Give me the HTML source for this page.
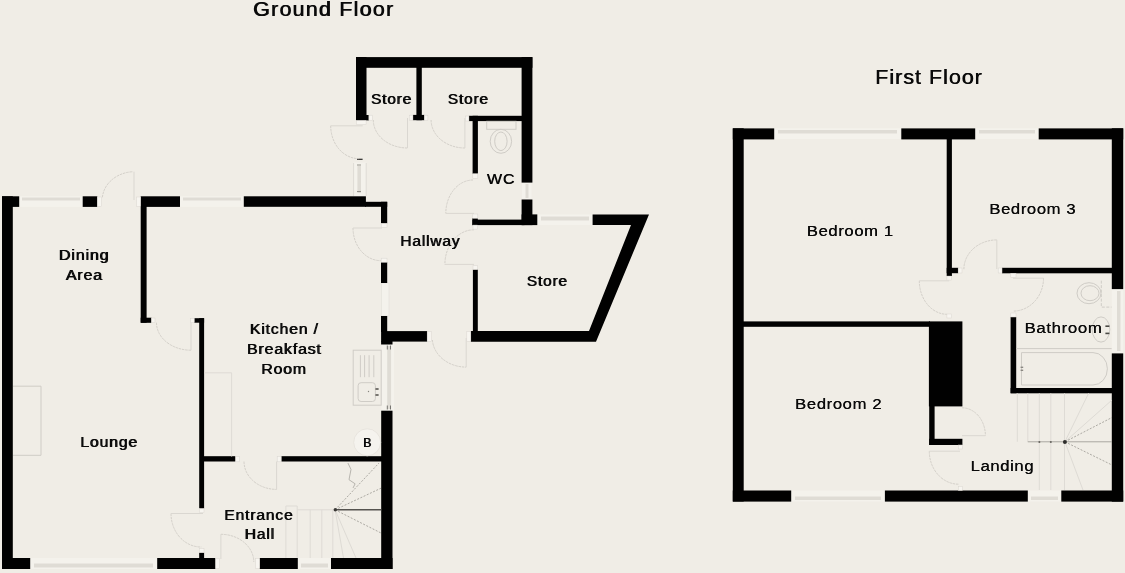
<!DOCTYPE html>
<html>
<head>
<meta charset="utf-8">
<title>Floor Plan</title>
<style>
html,body{margin:0;padding:0;background:#f0ede6;}
body{width:1125px;height:573px;overflow:hidden;font-family:"Liberation Sans",sans-serif;}
svg{display:block;opacity:0.999;}
text{font-family:"Liberation Sans",sans-serif;fill:#0a0a0a;text-anchor:middle;stroke:none;}
.t{font-size:14.5px;letter-spacing:0.8px;}
.t2{font-size:15.5px;letter-spacing:0.6px;}
.b{font-size:12px;letter-spacing:0px;}
.h{font-size:20px;letter-spacing:1.2px;}
.h2{font-size:20.6px;letter-spacing:1.0px;}
.w{fill:#000;}
.win{fill:#f4f2ec;}
.wl{fill:#dfdcd5;}
.f{fill:none;stroke:#cfccc6;stroke-width:1;}
.f2{fill:none;stroke:#dedbd5;stroke-width:1;}
.d{fill:none;stroke:#9a9892;stroke-width:0.8;stroke-dasharray:2 1.5;}
.arc{fill:none;stroke:#cbc8c2;stroke-width:0.8;stroke-dasharray:2.5 0.8;}
.leaf{fill:none;stroke:#dad7d1;stroke-width:1;}
</style>
</head>
<body>
<svg width="1125" height="573" viewBox="0 0 1125 573">
<rect x="0" y="0" width="1125" height="573" fill="#f0ede6"/>

<!-- ================= GROUND FLOOR WINDOWS ================= -->
<g id="gwin">
<!-- dining top window -->
<rect class="win" x="19" y="196.3" width="64" height="10.6"/><rect class="wl" x="22" y="197.5" width="58" height="3"/>
<!-- kitchen top window -->
<rect class="win" x="180" y="196.3" width="64" height="10.6"/><rect class="wl" x="183" y="197.5" width="58" height="3"/>
<!-- lounge bottom window -->
<rect class="win" x="30" y="558" width="127.5" height="11"/><rect class="wl" x="34" y="563.5" width="119" height="4"/>
<!-- entrance bottom window -->
<rect class="win" x="297.5" y="558" width="33.5" height="11"/><rect class="wl" x="301" y="563.5" width="27" height="4"/>
<!-- kitchen right window (sink) -->
<rect class="win" x="381.5" y="344" width="12.5" height="67"/><rect class="wl" x="387.2" y="346" width="3.9" height="63"/>
<path d="M387.3 345.5v4M390.5 345.5v4M387.3 405.5v4M390.5 405.5v4" stroke="#5a5955" stroke-width="0.8" fill="none"/>
<!-- hallway left window lower -->
<rect class="win" x="381.4" y="283" width="7.6" height="33" stroke="#dedbd5" stroke-width="0.5"/>
<!-- hallway external window (upper left) -->
<rect class="win" x="353.5" y="162.5" width="13" height="34"/><rect class="wl" x="357.4" y="166" width="3.6" height="27"/><path d="M357 159.3h5.6" stroke="#2a2927" stroke-width="1.2"/><path d="M357 165h4M357 191.5h4" stroke="#8a8882" stroke-width="0.9"/><path class="f2" d="M353.6 163V196M366.2 163V196" stroke="#dbd8d2"/>
<!-- WC right window -->
<rect class="win" x="522" y="182.5" width="9.5" height="17"/><rect class="wl" x="525.5" y="184" width="3" height="14"/>
<!-- store top window -->
<rect class="win" x="537" y="214.4" width="56" height="10.6"/><rect class="wl" x="541" y="216.5" width="48" height="4"/>
</g>

<!-- ================= GROUND FLOOR WALLS ================= -->
<g id="gwalls" class="w">
<!-- lounge left wall -->
<rect x="2" y="196.3" width="10.8" height="372.7"/>
<!-- top wall segments -->
<rect x="2" y="196.3" width="17.2" height="10.6"/>
<rect x="82.7" y="196.3" width="14.6" height="10.6"/>
<rect x="140.7" y="196.3" width="39.3" height="10.6"/>
<rect x="243.8" y="196.3" width="122.1" height="10.5"/>
<rect x="365" y="201.8" width="22.2" height="5"/>
<!-- kitchen left wall upper -->
<rect x="140.7" y="200" width="5.9" height="122.7"/>
<rect x="140.7" y="317.7" width="10.8" height="5.1"/>
<!-- lounge/kitchen divider lower -->
<rect x="199.2" y="318.2" width="4.9" height="190.4"/>
<rect x="194.2" y="318.2" width="9.9" height="4.5"/>
<rect x="199.2" y="552.6" width="4.9" height="6"/>
<!-- kitchen bottom wall -->
<rect x="203" y="456.2" width="32.6" height="5.3"/>
<rect x="281.2" y="456.2" width="101" height="5.3"/>
<!-- bottom wall -->
<rect x="2" y="558" width="28.2" height="11"/>
<rect x="157.2" y="558" width="58.4" height="11"/>
<rect x="259.6" y="558" width="38.2" height="11"/>
<rect x="331" y="558" width="61.5" height="11"/>
<!-- right wall lower -->
<rect x="381.2" y="410.7" width="11.3" height="158.3"/>
<!-- hallway left wall pieces -->
<rect x="381" y="201.8" width="6.2" height="21.6"/>
<rect x="381" y="262.2" width="6.2" height="20.8"/>
<rect x="381" y="316" width="6.2" height="16"/>
<rect x="381.1" y="331.1" width="46.1" height="10.5"/>
<rect x="381.1" y="341" width="11.4" height="3.5"/>
<!-- top stores -->
<rect x="356" y="57.1" width="176.4" height="10.7"/>
<rect x="356" y="57.1" width="10.5" height="63.3"/>
<rect x="356" y="115" width="12.9" height="5.4"/>
<rect x="416.4" y="60" width="5.4" height="60.2"/>
<rect x="412.9" y="114.9" width="11.5" height="5.3"/>
<rect x="521.6" y="57.1" width="10.8" height="125.5"/>
<rect x="521.6" y="199.5" width="10.8" height="25.6"/>
<!-- WC walls -->
<rect x="468.9" y="115.8" width="54" height="5.3"/>
<rect x="472.6" y="115.8" width="5.3" height="58"/>
<!-- WC / store horizontal wall -->
<rect x="472.4" y="219.6" width="52" height="5.5"/>
<rect x="472.4" y="218.2" width="5.4" height="7"/>
<rect x="521.6" y="214.4" width="15.7" height="10.7"/>
<!-- big store -->
<polygon points="592.6,214.4 649,214.4 596,341.8 470.8,341.8 470.8,331 589,331 631,225 592.6,225"/>
<rect x="472.9" y="269.5" width="4.9" height="66"/>
</g>

<!-- ================= FIRST FLOOR WINDOWS ================= -->
<g id="fwin">
<rect class="win" x="774" y="128.3" width="127.5" height="10.8"/><rect class="wl" x="778" y="130" width="119" height="3.5"/>
<rect class="win" x="975" y="128.3" width="64" height="10.8"/><rect class="wl" x="979" y="130" width="56" height="3.5"/>
<rect class="win" x="791" y="490.5" width="94" height="11"/><rect class="wl" x="795" y="496.5" width="86" height="3.5"/>
<rect class="win" x="1027.8" y="490.5" width="33.7" height="11"/><rect class="wl" x="1031" y="496.5" width="27" height="3.5"/>
<rect class="win" x="1111.8" y="289" width="11.4" height="64.5"/><rect class="wl" x="1117" y="291" width="3.5" height="60"/>
</g>

<!-- ================= FIRST FLOOR WALLS ================= -->
<g id="fwalls" class="w">
<!-- left wall -->
<rect x="732.8" y="128.3" width="10.9" height="373.2"/>
<!-- top wall -->
<rect x="732.8" y="128.4" width="41.4" height="11"/>
<rect x="901.3" y="128.4" width="73.9" height="11"/>
<rect x="1038.7" y="128.4" width="84.5" height="11"/>
<!-- right wall -->
<rect x="1111.8" y="128.3" width="11.4" height="160.8"/>
<rect x="1111.8" y="353.4" width="11.4" height="148.2"/>
<!-- bottom wall -->
<rect x="732.8" y="490.5" width="58.4" height="11.1"/>
<rect x="884.9" y="490.5" width="142.9" height="11.1"/>
<rect x="1061.3" y="490.5" width="61.9" height="11.1"/>
<!-- bed1/bed3 divider -->
<rect x="946.7" y="135" width="5.2" height="141"/>
<rect x="946.7" y="267.8" width="11.5" height="5.4"/>
<!-- bed3 bottom wall -->
<rect x="1002" y="267.8" width="112" height="5.5"/>
<!-- bed2 top wall -->
<rect x="740" y="321.4" width="190" height="5.4"/>
<!-- chimney -->
<rect x="928.9" y="321.4" width="33.5" height="85"/>
<!-- cupboard -->
<rect x="929.2" y="400" width="5.4" height="45"/>
<rect x="929.2" y="438.8" width="33.2" height="6.2"/>
<!-- bathroom -->
<rect x="1010.6" y="317" width="5.6" height="76.2"/>
<rect x="1010.6" y="388" width="103" height="5.3"/>
</g>


<!-- ================= FAINT DETAILS: GROUND FLOOR ================= -->
<g id="gdetail">
<!-- fireplace -->
<path class="f" d="M13 386.2H41V455.3H13" stroke="#d6d3cd"/>
<!-- kitchen counters -->
<path class="f2" d="M204 372.8H231.6V456.5"/>
<!-- sink unit -->
<rect class="f" x="353.2" y="350.2" width="28" height="55"/>
<path class="f" d="M360.4 355.2V377.2M364.6 355.2V377.2M369.1 355.2V377.2M373.8 355.2V377.2"/>
<rect class="f" x="358.1" y="382.7" width="17.3" height="18.8" rx="3"/>
<rect x="375.4" y="388" width="3.2" height="2" fill="#77756f"/><rect x="375.4" y="394" width="3.2" height="2" fill="#77756f"/>
<circle cx="368.5" cy="391.5" r="0.7" fill="#88867f"/>
<!-- boiler -->
<circle cx="367.2" cy="442.3" r="13.5" fill="#f5f3ee" stroke="#e4e1db" stroke-width="0.8"/>
<!-- WC pan -->
<rect class="f" x="486.7" y="121.3" width="29.3" height="8"/>
<ellipse class="f" cx="500.9" cy="141.3" rx="10.7" ry="12"/>
<ellipse class="f" cx="500.9" cy="141.3" rx="6.2" ry="9.3"/>
<!-- ground stairs -->
<path class="f2" d="M285.9 506V558M297.2 506V558M310.2 509.8V558M321.8 509.8V558M332.8 509.8V558M285.9 506H297.2M297.2 509.8H335" stroke="#d6d3cd"/>
<path d="M335.1 509.8H381.2" stroke="#55534f" stroke-width="1.4" fill="none"/>
<path class="d" d="M335.1 509.8L381 488.2M335.1 509.8L379 463M335.1 509.8L381 533"/>
<path class="f2" d="M335.1 509.8L356 558M335.1 509.8L343.5 558"/>
<path d="M347.9 463L351 469.4L349 479.7L355.1 483.8L353 488" stroke="#a8a6a0" stroke-width="0.8" fill="none"/>
<circle cx="335.3" cy="509.8" r="1.7" fill="#3a3936"/>
</g>

<!-- ================= DOORS: GROUND FLOOR ================= -->
<g id="gdoors">
<!-- A dining external -->
<path class="arc" d="M102.4 197.3A32.5 28 0 0 1 133 171.7"/><path class="leaf" d="M134 171.7V200"/>
<!-- B kitchen / lounge -->
<path class="arc" d="M156.5 322.7A34.5 27.5 0 0 0 191 350.2"/><path class="leaf" d="M191 320V350.2"/>
<!-- C lounge / entrance -->
<path class="arc" d="M171 513.5A30 33.5 0 0 0 201.3 547"/><path class="leaf" d="M171 513.5H203"/>
<!-- D front door -->
<path class="arc" d="M220.9 534.3A33 27.7 0 0 1 253.8 562"/><path class="leaf" d="M220.9 534.3V559"/>
<!-- E kitchen / entrance -->
<path class="arc" d="M244 461.5A32.6 28 0 0 0 276.6 489.4"/><path class="leaf" d="M276.6 461.5V489.4"/>
<!-- F kitchen / hallway -->
<path class="arc" d="M353 228A28 32.7 0 0 0 380.8 260.7"/><path class="leaf" d="M353 228H382"/>
<!-- G hallway bottom external -->
<path class="arc" d="M432.4 340A33.8 29 0 0 0 466.2 367.1"/><path class="leaf" d="M466.2 338V367.1"/>
<!-- H hallway / store -->
<path class="arc" d="M474 229.8A29 34.6 0 0 0 444.9 264.4"/><path class="leaf" d="M444.9 264.4H474"/>
<!-- I WC -->
<path class="arc" d="M473 180A27.2 33.4 0 0 0 445.8 213.4"/><path class="leaf" d="M445.8 213.4H474"/>
<!-- J store 1 -->
<path class="arc" d="M373.3 120A34.2 28 0 0 0 407.5 148"/><path class="leaf" d="M407.5 118V148"/>
<!-- K store 2 -->
<path class="arc" d="M431.1 120A33.8 28 0 0 0 464.9 148"/><path class="leaf" d="M464.9 118V148"/>
<!-- L hallway external left -->
<path class="arc" d="M330.7 125.8A28.4 32.9 0 0 0 359.1 158.7"/><path class="leaf" d="M330.7 125.8H362.7"/>
</g>

<!-- ================= FAINT DETAILS: FIRST FLOOR ================= -->
<g id="fdetail">
<!-- bath -->
<path class="f" d="M1016.3 348.6H1111.6"/>
<path class="f" d="M1021.5 352.6H1093A14.4 16.2 0 0 1 1093 385H1021.5Z"/>
<rect x="1020.6" y="366.6" width="2.6" height="1.4" fill="#8a8882"/><rect x="1020.6" y="369.6" width="2.6" height="1.4" fill="#8a8882"/>
<!-- toilet -->
<ellipse class="f" cx="1089" cy="293.2" rx="12" ry="10.5"/>
<ellipse class="f" cx="1090" cy="293.2" rx="9" ry="7.5"/>
<path class="f" d="M1101.3 280.6V307.1H1111.5" stroke-dasharray="3 1.5"/>
<!-- basin -->
<ellipse class="f" cx="1101" cy="329.5" rx="8.8" ry="12.6"/>
<rect x="1105.4" y="325.4" width="4" height="1.6" fill="#4a4945"/><rect x="1105.4" y="332.6" width="4" height="1.6" fill="#4a4945"/>
<!-- stairs -->
<path class="f2" d="M1017.3 393.3V441.8M1027.8 393.3V441.8M1039.3 393.3V441.8M1050.8 393.3V441.8M1064.5 393.3V441.8" stroke="#d8d5cf"/>
<path class="f2" d="M1039.3 441.8V490M1050.8 441.8V490M1064.5 441.8V490" stroke="#e6e3dd"/>
<path class="f2" d="M1064.9 441.8L1088.6 393.3M1064.9 441.8L1083 490M1064.9 441.8L1112 400" stroke="#e8e5df"/>
<path d="M1027.8 441.8H1112" stroke="#a19f99" stroke-width="0.9" fill="none"/>
<path class="d" d="M1064.9 441.8L1112 417.5M1064.9 441.8L1112 465" stroke="#c6c3bd"/>
<circle cx="1039.4" cy="441.9" r="1" fill="#66645f"/><circle cx="1050.8" cy="441.9" r="1" fill="#66645f"/>
<circle cx="1064.9" cy="441.9" r="2" fill="#2e2d2b"/>
</g>

<!-- ================= DOORS: FIRST FLOOR ================= -->
<g id="fdoors">
<!-- M bedroom 3 -->
<path class="arc" d="M963.9 269.2A33 29.3 0 0 1 996.8 239.9"/><path class="leaf" d="M996.8 239.9V269"/>
<!-- N bedroom 1 -->
<path class="arc" d="M919.3 280.8A27.8 33.5 0 0 0 947.1 314.3"/><path class="leaf" d="M919.3 280.8H949.2"/>
<!-- O bathroom -->
<path class="arc" d="M1043.5 278.2A30.4 32.9 0 0 1 1013.1 311.1"/><path class="leaf" d="M1013 278.2H1043.5"/>
<!-- P bedroom 2 -->
<path class="arc" d="M929.3 451.2A29.3 33 0 0 0 958.6 484.2"/><path class="leaf" d="M929.3 451.2H960"/>
<!-- Q cupboard -->
<path class="arc" d="M962 407.8A23.4 27.9 0 0 1 985.4 435.7"/><path class="leaf" d="M962 435.7H985.4"/>
</g>

<g id="jambs" fill="#f7f5f0" stroke="#d9d6d0" stroke-width="0.5">
<rect x="97.4" y="197" width="4" height="9.5"/>
<rect x="136.6" y="197" width="4" height="9.5"/>
<rect x="151.5" y="318" width="3.5" height="4.7"/>
<rect x="190.7" y="318.4" width="3.5" height="4.3"/>
<rect x="199.3" y="508.6" width="4.7" height="4"/>
<rect x="199.3" y="548.6" width="4.7" height="4"/>
<rect x="215.6" y="558.5" width="4" height="10"/>
<rect x="255.6" y="558.5" width="4" height="10"/>
<rect x="235.6" y="456.6" width="4" height="5.2"/>
<rect x="277.2" y="456.6" width="4" height="5.2"/>
<rect x="381.2" y="223.4" width="5.8" height="4"/>
<rect x="381.2" y="258.2" width="5.8" height="4"/>
<rect x="427.2" y="331.5" width="4" height="9.8"/>
<rect x="466.8" y="331.5" width="4" height="9.8"/>
<rect x="473" y="225.1" width="4.7" height="4"/>
<rect x="473" y="265.5" width="4.7" height="4"/>
<rect x="472.8" y="173.8" width="5" height="4.5"/>
<rect x="472.8" y="214" width="5" height="4.2"/>
<rect x="368.9" y="115.2" width="3.5" height="5"/>
<rect x="409.4" y="115.2" width="3.5" height="5"/>
<rect x="424.4" y="115.2" width="3.5" height="5"/>
<rect x="465.4" y="116" width="3.5" height="5"/>
<rect x="356.3" y="120.4" width="9.8" height="4"/>
<rect x="958.2" y="268" width="3.8" height="5"/>
<rect x="998.2" y="268" width="3.8" height="5"/>
<rect x="946.9" y="276.1" width="4.8" height="4"/>
<rect x="946.9" y="314" width="4.8" height="4"/>
<rect x="1010.8" y="273.3" width="5.2" height="4"/>
<rect x="1010.8" y="313" width="5.2" height="4"/>
<rect x="958.4" y="445" width="4" height="4"/>
<rect x="958.4" y="486.4" width="4" height="4"/>
</g>

<!-- ================= TEXT ================= -->
<g id="labels" style="filter:grayscale(1)">
<text class="h" transform="translate(323.44 15.6) scale(1.068 1)">Ground Floor</text>
<text class="h" transform="translate(324.24 15.6) scale(1.068 1)">Ground Floor</text>
<text class="h2" transform="translate(928.82 83.7) scale(1.039 1)">First Floor</text>
<text class="h2" transform="translate(929.42 83.7) scale(1.039 1)">First Floor</text>
<text class="t" transform="translate(391.20 104.0) scale(1.061 1)">Store</text>
<text class="t" transform="translate(392.04 104.0) scale(1.061 1)">Store</text>
<text class="t" transform="translate(468.00 104.0) scale(1.061 1)">Store</text>
<text class="t" transform="translate(468.84 104.0) scale(1.061 1)">Store</text>
<text class="t" transform="translate(500.99 183.9) scale(1.103 1)">WC</text>
<text class="t" transform="translate(501.49 183.9) scale(1.103 1)">WC</text>
<text class="t" transform="translate(430.01 246.4) scale(1.067 1)">Hallway</text>
<text class="t" transform="translate(430.85 246.4) scale(1.067 1)">Hallway</text>
<text class="t" transform="translate(547.00 286.1) scale(1.061 1)">Store</text>
<text class="t" transform="translate(547.84 286.1) scale(1.061 1)">Store</text>
<text class="t" transform="translate(83.82 259.7) scale(1.100 1)">Dining</text>
<text class="t" transform="translate(84.66 259.7) scale(1.100 1)">Dining</text>
<text class="t" transform="translate(84.02 280.0) scale(1.092 1)">Area</text>
<text class="t" transform="translate(84.86 280.0) scale(1.092 1)">Area</text>
<text class="t" transform="translate(284.01 334.2) scale(1.084 1)">Kitchen /</text>
<text class="t" transform="translate(284.85 334.2) scale(1.084 1)">Kitchen /</text>
<text class="t" transform="translate(284.02 354.4) scale(1.093 1)">Breakfast</text>
<text class="t" transform="translate(284.86 354.4) scale(1.093 1)">Breakfast</text>
<text class="t" transform="translate(283.72 373.6) scale(1.091 1)">Room</text>
<text class="t" transform="translate(284.56 373.6) scale(1.091 1)">Room</text>
<text class="t" transform="translate(108.82 447.2) scale(1.088 1)">Lounge</text>
<text class="t" transform="translate(109.66 447.2) scale(1.088 1)">Lounge</text>
<text class="t" transform="translate(258.61 520.0) scale(1.074 1)">Entrance</text>
<text class="t" transform="translate(259.45 520.0) scale(1.074 1)">Entrance</text>
<text class="t" transform="translate(259.51 539.2) scale(1.075 1)">Hall</text>
<text class="t" transform="translate(260.35 539.2) scale(1.075 1)">Hall</text>
<text class="b" transform="translate(367.10 446.6) scale(1.000 1)">B</text>
<text class="b" transform="translate(367.70 446.6) scale(1.000 1)">B</text>
<text class="t2" transform="translate(850.19 236.2) scale(1.072 1)">Bedroom 1</text>
<text class="t2" transform="translate(850.45 236.2) scale(1.072 1)">Bedroom 1</text>
<text class="t2" transform="translate(1032.69 213.6) scale(1.072 1)">Bedroom 3</text>
<text class="t2" transform="translate(1032.95 213.6) scale(1.072 1)">Bedroom 3</text>
<text class="t2" transform="translate(838.59 409.4) scale(1.072 1)">Bedroom 2</text>
<text class="t2" transform="translate(838.85 409.4) scale(1.072 1)">Bedroom 2</text>
<text class="t2" transform="translate(1063.39 332.6) scale(1.082 1)">Bathroom</text>
<text class="t2" transform="translate(1063.65 332.6) scale(1.082 1)">Bathroom</text>
<text class="t2" transform="translate(1002.29 471.0) scale(1.070 1)">Landing</text>
<text class="t2" transform="translate(1002.55 471.0) scale(1.070 1)">Landing</text>
</g>
</svg>
</body>
</html>
